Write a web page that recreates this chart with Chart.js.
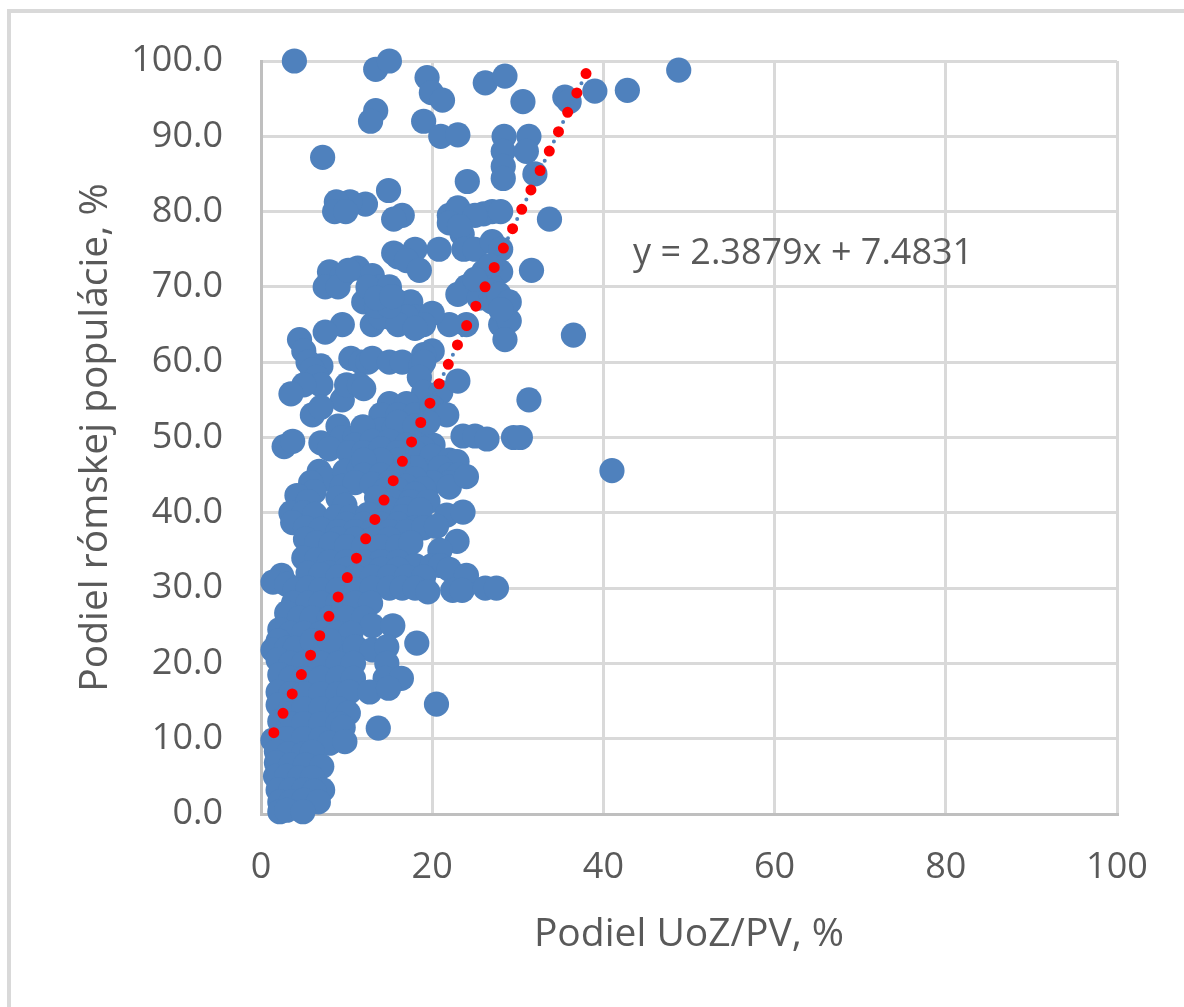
<!DOCTYPE html>
<html>
<head>
<meta charset="utf-8">
<title>Podiel UoZ/PV</title>
<script src="https://cdn.jsdelivr.net/npm/chart.js@4"></script>
<style>
  body { margin: 0; background: #fff; }
  #frame { position: absolute; left: 7px; top: 9px; width: 1177px; height: 998px; box-sizing: border-box;
           border-left: 4px solid #d9d9d9; border-top: 4px solid #d9d9d9; }
  #myChart { position: absolute; left: 0; top: 0; }
  #equation { position: absolute; left: 633px; top: 226px; font: 36px/50px "Open Sans", sans-serif; color: #595959; white-space: nowrap; }
</style>
</head>
<body>
<div id="frame"></div>
<canvas id="myChart" width="1184" height="1007"></canvas>
<div id="equation">y = 2.3879x + 7.4831</div>
<script>
// upper part of the cloud, points can be told apart here
const upperPoints = [
  [3.9,100],[13.4,98.9],[15,100],[19.4,97.8],[19.9,95.8],[21.2,94.8],[13.4,93.4],[12.8,92],[19,92],[21,90],[23,90.2],
  [7.2,87.2],[26.2,97.1],[28.5,98],[30.6,94.6],[35.5,95.2],[36,94.6],[39,96],[42.8,96.1],[48.8,98.8],
  [28.4,90],[28.3,88],[28.3,86],[28.3,84.4],[31.3,90],[31,88],[32,85],[24.1,84],[33.7,79],[14.9,82.8],
  [16.5,79.5],[15.5,79],[12.2,81],[10.4,81.3],[8.8,81.3],[8.6,80],[9.9,80],
  [22,79.5],[23,80.5],[22,78.5],[23.5,77],[26,79.7],[27,80],[28,80],[25,79.5],[23.2,78],
  [20.8,75],[23.7,75],[25,75],[27,76],[28,75],[15.5,74.5],[18,75],[16,74],[17,73.5],[18.5,72.2],
  [11.3,72.5],[13,71.5],[8,72],[9.5,71.5],[7.5,70],[9,70],[10.2,72.2],[31.6,72.2],[28,72],[26,72],[27,70],[25,70],[24,70],[23,69],[24,65],
  [22,65],[12,68],[14,70],[12.5,70],[15,70],[16,68],[17.5,68],[18,66],[20,66.5],[19,65],[17,66],[15,66],[13,65],[14,66],[16,65],[18,64.5],
  [13.5,67.5],[15,67.5],[13.5,68.5],[15.3,68.7],[26.5,69.5],[25.5,68.5],[27,68],[27.8,69],[26.8,72.8],[25,71],
  [9.5,65],[7.5,64],[4.5,63],[5,61.5],[28,65],[29,65.5],[28.5,63],[29,68],[28,67],[36.5,63.6],
  [20,61.5],[19,61],[10.5,60.5],[11.7,60],[12.5,60],[13,60.5],[15,60],[16.5,60],[18.7,59.5],[19,60],
  [7,59.5],[5.5,60],[6,59],[6.5,58],[7,57],[5,57],[3.5,55.8],[9.5,55],[10,57],[11.5,57],[12,56.5],[18.5,58],[19,56],[21,56],[23,57.5],
  [6,53],[7,54],[15,54.5],[17,54.5],[14,53],[16,53],[18,53],[20,54],[21.7,53],[31.3,55],
  [23.6,50.2],[25,50.2],[26.4,49.8],[29.5,50],[30.3,50],[41,45.6]
]

const lowerPoints = [
  [2.7,48.8],[3.7,49.5],[7,49.3],[9,51.5],[9.5,50],[11,50],[12.5,51],[14,51],[15.5,51],[17,50.5],[18.5,50],[20.1,49],
  [16,52],[18,51.5],[19.5,52],[11.9,51.4],[11,49],[13,49.5],[15,49.5],[17,49],[19,48.5],
  [8,48.5],[10.3,48],[12,48],[14,48.5],[16,48],[18,48],[20,47.5],[22,47],[6.8,45.5],[7.5,44.5],[9.8,45.5],[11.5,45.8],[13,46],[15,46],[17,45.5],[19,45.5],[21,45],[22.9,46.8],
  [21,46],[22,45],[23,45],[22,44],[20,44],[18,46],[16,47],[14,47],[12,47],[12,45],[14,45],[16,45],[18,44.5],
  [5.8,44],[6.2,42.8],[9.5,43.5],[11,44],[13,43.8],[15,44],[17,43.5],[19,43.2],[22,43.4],[24,44.8],[14.5,43],[16,43],[18,42.5],
  [4.2,42.3],[5.5,41.5],[9,42],[9.8,41],[13.5,42],[15.5,41.5],[17.5,41.5],[19.5,41.5],[15,40.5],[17,40.5],
  [3.5,40],[5,40],[6.3,39.8],[8.8,39.5],[10.5,39.5],[12.5,39.8],[14.5,39.5],[16.5,39.5],[18.6,40.4],[21.7,39.7],[23.6,40.1],
  [10,38.5],[12,38.5],[14,38.5],[16,38.5],[18,38],
  [3.7,38.7],[5.2,38],[7,37.8],[9,37.5],[11,37.5],[13,37.5],[15,37.5],[17,37.5],[19,38],[20.5,38.2],
  [9,36.5],[11,36.5],[13,36.5],[15,36.5],[7,35],
  [5.2,36.5],[6.5,36],[8.2,35.8],[10,35.5],[12,35.5],[14,35.5],[16,35.5],[17.5,36],[22.9,36.2],
  [5,34],[6.5,33.8],[8,33.5],[10,33.5],[12,33.5],[14,33.5],[16,33.5],[18,33],[20.9,35],[20,33],[21,33],[22,32.5],
  [8,32],[10,32.5],[12,32.5],[14,32.5],[16,32.5],[18,31],[6,31],
  [2.4,31.7],[1.4,30.8],[3,30.5],[5.5,32],[7,31.8],[9,31.5],[11,31.5],[13,31.5],[15,31.5],[17,31.5],[19,31.5],[24,31.7],
  [4,29.8],[5.5,30],[7,29.8],[9,29.8],[11,29.8],[13,30],[15,30],[16.5,30],[18,30],[19.5,29.5],[22.4,29.7],[23.5,29.7],[26.2,30],[27.5,30],
  [3.8,28],[5.5,28],[7,28],[9,28],[11,28],[12.8,28],[3,26.7],[4.5,26],[6,26],[8,26],[10,26],[12,26],[13,25],[15.4,25],
  [2.2,24.5],[3.5,24],[5,24],[7,24],[9,24],[10.5,24],[2,23],[1.4,21.8],[3,22],[5,22],[7,22],[9,22],[11,22.2],[13,21.8],[14.7,22.2],[18.2,22.7],
  [4,22],[6,23],[8,23],[4,19],[6,19],[8,19],
  [2,20.5],[3.5,20],[5,20],[7,20],[9,20],[10.8,20],[14.7,20],[2.2,18.5],[3.5,18],[5,18],[7,18],[9,18],[10.8,18],[14.5,18],[16.4,18],
  [4,15],[6,15],[8,15],[4,13],[6,13],[8,13],[4,11],[6,11],[8,11],[4,9],[4,7],[6,7],
  [2,16.2],[3.5,16],[5,16],[7,16],[9,16],[10.3,16.2],[12.7,16.2],[14.9,16.7],[2,14.5],[3.5,14],[5,14],[7,14],[9,14],[10.2,13.4],[20.5,14.6],
  [2.2,12.3],[3.5,12],[5,12],[7,12],[9,12],[9.6,11.5],[13.7,11.4],[1.4,9.8],[3,10],[5,10],[7,10],[8,9.4],[9.8,9.6],
  [1.8,8.3],[3.2,8],[5,8],[6,8.2],[1.8,6.8],[3.5,6.5],[5.2,6.5],[7.1,6.3],[1.7,5],[3,5],[4.5,4.8],[6,4.8],
  [2,3.2],[3.5,3.2],[5,3.2],[7.2,3.2],[6.2,3],[2.2,1.6],[3.5,1.6],[5,1.8],[6.7,1.6],[2.2,0.3],[3,0.5],[4.9,0.3]
]

// trendline end points as they sit on the picture
const trendX = [1.5, 38.0]
const trendY = [10.8, 98.4]

const xTickStep = 20
const yTickStep = 10
const tickColor = '#595959'
const tickFont = { family: 'Open Sans', size: 36 }
const titleFont = { family: 'Open Sans', size: 39 }

const trend = trendX.map((x, i) => ({ x: x, y: trendY[i] }))

const data = {
  datasets: [
    {
      // red dots on top
      data: trend,
      showLine: true,
      pointRadius: 0,
      borderColor: '#ff0000',
      borderWidth: 11,
      borderCapStyle: 'round',
      borderDash: [0, 21.45],
      order: 0,
    },
    {
      // thin blue dotted line under the red one
      data: trend,
      showLine: true,
      pointRadius: 0,
      borderColor: '#4f81bd',
      borderWidth: 4,
      borderCapStyle: 'round',
      borderDash: [0, 21.45],
      borderDashOffset: 10.7,
      order: 1,
    },
    {
      data: upperPoints.concat(lowerPoints).map(p => ({ x: p[0], y: p[1] })),
      pointRadius: 12.6,
      pointBackgroundColor: '#4f81bd',
      pointBorderWidth: 0,
      clip: false,
      order: 2,
    },
  ],
}

const config = {
  type: 'scatter',
  data: data,
  options: {
    responsive: false,
    animation: false,
    layout: { padding: { left: 72, top: 61, right: 67, bottom: 49 } },
    plugins: { legend: { display: false }, tooltip: { enabled: false } },
    scales: {
      x: {
        min: 0,
        max: 100,
        afterFit: s => { s.height = 144 },
        border: { color: '#bfbfbf', width: 3 },
        grid: { color: '#d9d9d9', lineWidth: 3, drawTicks: false },
        ticks: { stepSize: xTickStep, padding: 32, color: tickColor, font: tickFont, maxRotation: 0 },
        title: { display: true, text: 'Podiel UoZ/PV, %', color: tickColor, font: titleFont, padding: 0 },
      },
      y: {
        min: 0,
        max: 100,
        afterFit: s => { s.width = 189 },
        border: { color: '#bfbfbf', width: 3 },
        grid: { color: '#d9d9d9', lineWidth: 3, drawTicks: false },
        ticks: { stepSize: yTickStep, padding: 38, color: tickColor, font: tickFont, callback: v => v.toFixed(1) },
        title: { display: true, text: 'Podiel rómskej populácie, %', color: tickColor, font: titleFont, padding: 0 },
      },
    },
  },
}

const myChart = new Chart(document.getElementById('myChart').getContext('2d'), config)
</script>
</body>
</html>
